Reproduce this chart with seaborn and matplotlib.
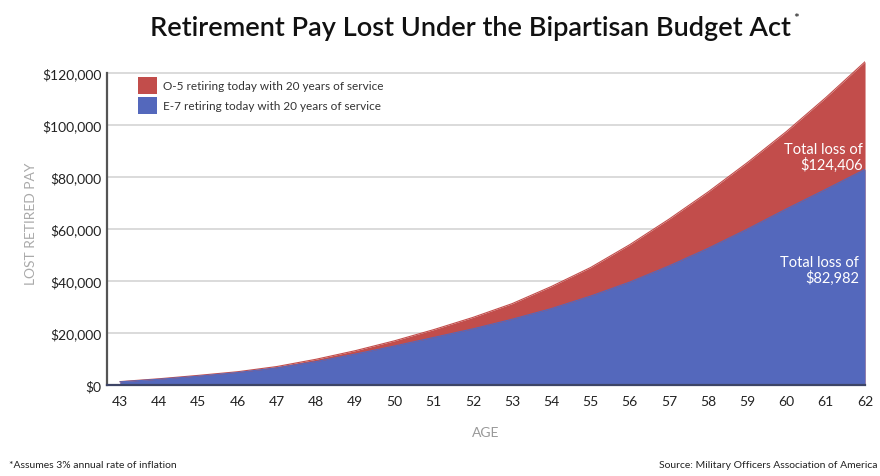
import numpy as np
import pandas as pd
import matplotlib.pyplot as plt
import seaborn as sns
from matplotlib.patches import Patch

# data (cumulative lost retired pay, USD)
ages = [43, 44, 45, 46, 47, 48, 49, 50, 51, 52, 53, 54, 55, 56, 57, 58, 59, 60, 61, 62]
o5_loss = [1300, 2400, 3700, 5100, 7100, 9900, 13200, 17000, 21300, 26000, 31300,
           37900, 45200, 54000, 63800, 74300, 85600, 97600, 110600, 124406]
e7_loss = [1200, 2200, 3400, 4800, 6600, 9000, 11900, 15000, 18300, 21600, 25300,
           29400, 34200, 39600, 45800, 52600, 60000, 67800, 75300, 82982]
series_labels = ["O-5 retiring today with 20 years of service",
                 "E-7 retiring today with 20 years of service"]
yticks = [0, 20000, 40000, 60000, 80000, 100000, 120000]

RED = "#c24d4b"
BLUE = "#5468bc"

df = pd.DataFrame({"age": ages, "O-5": o5_loss, "E-7": e7_loss})

sns.set_theme(style="white")
plt.rcParams["font.family"] = ["Lato", "DejaVu Sans"]

fig = plt.figure(figsize=(8.8, 4.77), dpi=100)
ax = fig.add_axes([0.1216, 0.1908, 0.983 - 0.1216, 0.681])

# red behind, blue in front
ax.fill_between(df["age"], 0, df["O-5"], color=RED, lw=0, zorder=2)
ax.fill_between(df["age"], 0, df["E-7"], color=BLUE, lw=0, zorder=3)
sns.lineplot(data=df, x="age", y="O-5", color=RED, lw=0.8, ax=ax, zorder=2)
sns.lineplot(data=df, x="age", y="E-7", color=BLUE, lw=0.8, ax=ax, zorder=3)

ax.set_xlim(42.67, 62)
ax.set_ylim(0, 125000)
ax.set_xticks(ages)
ax.set_yticks(yticks)
ax.set_yticklabels([f"${v:,}" for v in yticks])
for v in yticks[1:]:
    ax.axhline(v, color="#d4d4d4", lw=1.2, zorder=1)

ax.tick_params(axis="both", length=0, labelsize=10, labelcolor="#222222")
ax.tick_params(axis="x", pad=7)
ax.tick_params(axis="y", pad=4)
ax.set_xlabel("AGE", color="#999999", fontsize=10, labelpad=14)
ax.set_ylabel("LOST RETIRED PAY", color="#aaaaaa", fontsize=10, labelpad=4)

for s in ["top", "right"]:
    ax.spines[s].set_visible(False)
ax.spines["left"].set_bounds(0, 120000)
ax.spines["left"].set_color("#555555")
ax.spines["left"].set_linewidth(1.6)
ax.spines["bottom"].set_color("#3d4566")
ax.spines["bottom"].set_linewidth(1.6)
ax.spines["left"].set_zorder(5)
ax.spines["bottom"].set_zorder(5)

handles = [Patch(facecolor=RED, edgecolor="none"), Patch(facecolor=BLUE, edgecolor="none")]
leg = ax.legend(handles, series_labels, loc="upper left", bbox_to_anchor=(0.03, 0.975),
                frameon=False, fontsize=8.5, handlelength=1.6, handleheight=1.9,
                handletextpad=0.5, labelspacing=0.25, borderaxespad=0.3)
for t in leg.get_texts():
    t.set_color("#333333")

ax.text(61.95, o5_loss[-1] * 0.705, "Total loss of\n$" + f"{o5_loss[-1]:,}",
        color="white", fontsize=10.5, ha="right", va="center", linespacing=1.05, zorder=6)
ax.text(61.85, e7_loss[-1] * 0.533, "Total loss of\n$" + f"{e7_loss[-1]:,}",
        color="white", fontsize=10.5, ha="right", va="center", linespacing=1.05, zorder=6)

title = fig.text(0.535, 0.94, "Retirement Pay Lost Under the Bipartisan Budget Act",
                 ha="center", va="center", fontsize=19.5, color="#111111",
                 fontweight="semibold")
fig.canvas.draw()
bb = title.get_window_extent().transformed(fig.transFigure.inverted())
fig.text(bb.x1 + 0.002, bb.y1 - 0.005, "*", ha="left", va="center", fontsize=10,
         color="#111111")
fig.text(0.01, 0.025, "*Assumes 3% annual rate of inflation", ha="left", va="center",
         fontsize=7.5, color="#222222")
fig.text(0.997, 0.025, "Source: Military Officers Association of America", ha="right",
         va="center", fontsize=7.5, color="#222222")

fig.savefig("out.png", dpi=100)
